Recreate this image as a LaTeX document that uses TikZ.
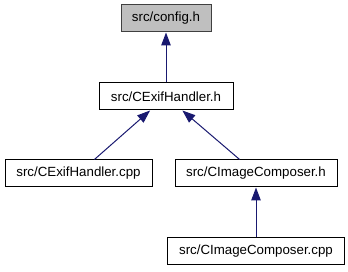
\documentclass[tikz,border=0pt]{standalone}
\usepackage{fontspec}
\setmainfont{Liberation Sans}
\usetikzlibrary{arrows.meta}
\definecolor{edgeblue}{HTML}{191970}
\definecolor{rootfill}{HTML}{BFBFBF}
\definecolor{rootline}{HTML}{404040}
\begin{document}
\begin{tikzpicture}[x=1pt,y=-1pt,
  file/.style={draw=black, fill=white, line width=1pt, minimum height=27pt,
    inner sep=0pt, font=\fontsize{13.3}{16}\selectfont, text=black},
  rootfile/.style={file, draw=rootline, fill=rootfill},
  dep/.style={draw=edgeblue, line width=1pt,
    -{Triangle[length=13pt,width=9.5pt]}}]
\useasboundingbox (0,0) rectangle (348,272);
% files, one row per include depth
\node[rootfile, minimum width=90pt]  (cfg)   at (166,18.5)  {src/config.h};
\node[file, minimum width=134pt]     (exh)   at (166,96.5)  {src/CExifHandler.h};
\node[file, minimum width=147pt]     (excpp) at (78.5,173.5) {src/CExifHandler.cpp};
\node[file, minimum width=162pt]     (imh)   at (256,173.5) {src/CImageComposer.h};
\node[file, minimum width=177pt]     (imcpp) at (256,251.5) {src/CImageComposer.cpp};
% include relations
\draw[dep] (exh) -- (cfg);
\draw[dep] (excpp) -- (exh);
\draw[dep] (imh) -- (exh);
\draw[dep] (imcpp) -- (imh);
\end{tikzpicture}
\end{document}
